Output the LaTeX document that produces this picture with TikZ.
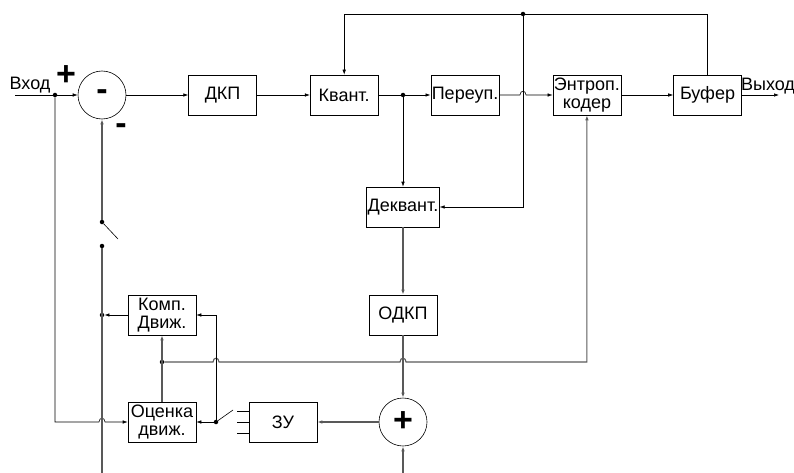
\documentclass[tikz,border=0pt]{standalone}
\usepackage{fontspec}
\setmainfont{Liberation Sans}
\usetikzlibrary{arrows.meta, positioning}
\tikzset{
  blk/.style={
    rectangle, draw, line width=0.6pt,
    minimum width=68pt, minimum height=40pt,
    inner sep=1pt, align=center,
    font=\fontsize{18}{18.5}\selectfont
  },
  sumnode/.style={
    circle, draw, line width=0.6pt,
    minimum size=48pt, inner sep=0pt,
    font=\fontsize{34}{34}\selectfont\bfseries
  },
  wire/.style={line width=0.6pt, draw=black},
  wireg/.style={line width=1.1pt, draw=black!65},
  arr/.style={-{Latex[length=5pt,width=3.5pt]}},
  dot/.style={circle, fill, inner sep=0pt, minimum size=4.5pt},
  sign/.style={font=\fontsize{34}{34}\selectfont\bfseries, inner sep=0pt},
  lbl/.style={font=\fontsize{18}{18.5}\selectfont, inner sep=0pt}
}
\begin{document}
\begin{tikzpicture}[x=1pt, y=-1pt, node distance=52pt]
  \useasboundingbox (0,0) rectangle (794,473);

  % -- main row --
  \node[sumnode] (sub) at (102,95) {-};
  \node[blk, right=62pt of sub]    (dkp)    {ДКП};
  \node[blk, right=53pt of dkp]    (kvant)  {Квант.};
  \node[blk, right=of kvant]       (pereup) {Переуп.};
  \node[blk, right=53pt of pereup] (entr)   {Энтроп.\\кодер};
  \node[blk, right=of entr]        (buf)    {Буфер};

  % -- decoder loop --
  \node[blk] (dekv) at (403,207) {Деквант.};
  \node[blk] (odkp) at (403,315) {ОДКП};
  \node[sumnode] (sum) at (403,422) {+};
  \node[blk] (komp) at (162,315) {Комп.\\Движ.};
  \node[blk] (est)  at (162,422) {Оценка\\движ.};
  \node[blk] (zu)   at (283,422) {ЗУ};

  % -- junctions --
  \node[dot] (jin) at (55,95) {};
  \node[dot] (jq)  at (403,95) {};
  \node[dot] (jt)  at (523,14) {};
  \node[dot] (sw1) at (102,222) {};
  \node[dot] (sw2) at (102,246) {};
  \node[dot] (jk)  at (102,315) {};
  \node[dot] (je)  at (162,362) {};
  \node[dot] (js)  at (216,422) {};
  \coordinate (in)  at (15,95);
  \coordinate (out) at (779,95);
  \coordinate (bl)  at (102,473);
  \coordinate (bs)  at (403,473);

  % -- labels --
  \node[lbl]  at (30,85)  {Вход};
  \node[sign] at (66,76)  {+};
  \node[sign] at (121,129) {-};
  \node[lbl]  at (768,86) {Выход};

  % -- forward path --
  \draw[wire, arr] (in) -- (sub);
  \draw[wire, arr] (sub) -- (dkp);
  \draw[wire, arr] (dkp) -- (kvant);
  \draw[wire, arr] (kvant) -- (pereup);
  \draw[wire, arr] (pereup.east) -- (520,95) .. controls (520,90) and (526,90) .. (526,95) -- (entr.west);
  \draw[wire, arr] (entr) -- (buf);
  \draw[wire, arr] (buf) -- (out);

  % -- buffer feedback --
  \draw[wire, arr] (buf.north) |- (jt) -| (kvant.north);
  \draw[wire, arr] (jt) |- (dekv.east);

  % -- reconstruction --
  \draw[wire, arr] (jq) -- (dekv);
  \draw[wireg, arr] (dekv) -- (odkp);
  \draw[wireg, arr] (odkp) -- (sum);
  \draw[wireg, arr] (sum) -- (zu);
  \draw[wireg, arr] (bs) -- (sum);

  % -- motion vectors --
  \draw[wireg, arr] (est) -- (komp);
  \draw[wireg, arr] (je) -- (213,362) .. controls (213,357) and (219,357) .. (219,362)
    -- (400,362) .. controls (400,357) and (406,357) .. (406,362) -| (entr.south);
  \draw[wire, arr] (komp) -- (jk);
  \draw[wire, arr] (js) -- (est);
  \draw[wire, arr] (js) |- (komp.east);
  \draw[wire, arr] (jin) |- (99,422) .. controls (99,417) and (105,417) .. (105,422) -- (est.west);

  % -- memory switch --
  \draw[wire] (js) -- (233,410);
  \foreach \dy in {-11,0,11}
    \draw[wire] ([yshift=\dy pt]zu.west) -- ++(-12,0);

  % -- prediction switch --
  \draw[wireg] (bl) -- (sw2);
  \draw[wire] (sw1) -- (118,239);
  \draw[wireg, arr] (sw1) -- (sub);
\end{tikzpicture}
\end{document}
